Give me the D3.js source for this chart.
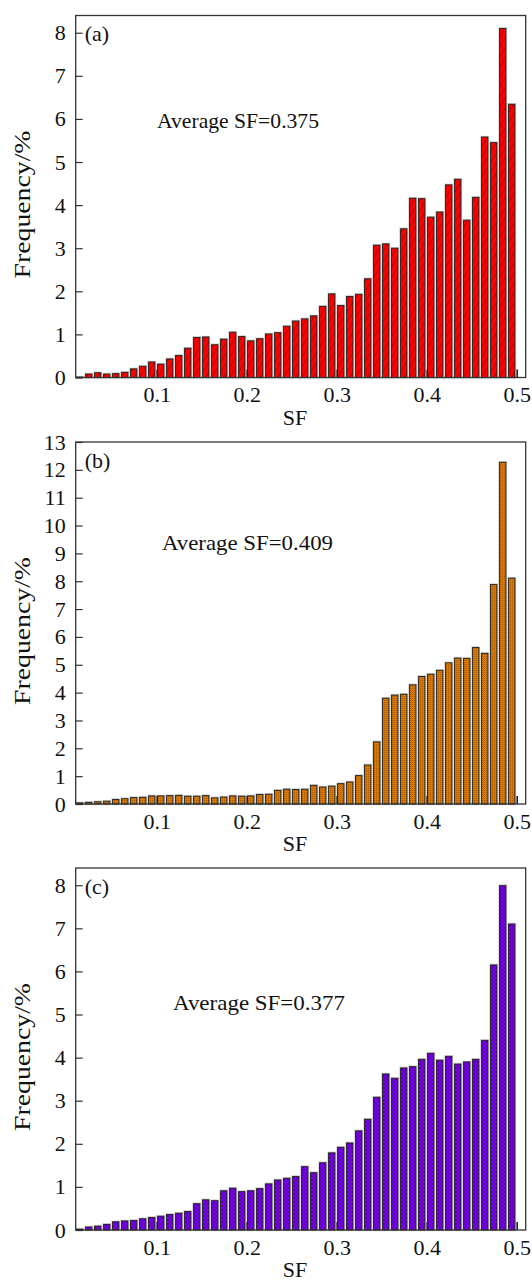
<!DOCTYPE html>
<html>
<head>
<meta charset="utf-8">
<script src="https://cdn.jsdelivr.net/npm/d3@7"></script>
<style>
  html, body { margin: 0; padding: 0; background: #fff; }
  svg text { font-family: "Liberation Serif", "Times New Roman", serif; fill: #111; }
</style>
</head>
<body>
<svg id="chart" width="532" height="1281"></svg>
<script>
// Lower edges of the 0.01-wide SF bins
const sfBins = [0.01, 0.02, 0.03, 0.04, 0.05, 0.06, 0.07, 0.08, 0.09, 0.10,
  0.11, 0.12, 0.13, 0.14, 0.15, 0.16, 0.17, 0.18, 0.19, 0.20,
  0.21, 0.22, 0.23, 0.24, 0.25, 0.26, 0.27, 0.28, 0.29, 0.30,
  0.31, 0.32, 0.33, 0.34, 0.35, 0.36, 0.37, 0.38, 0.39, 0.40,
  0.41, 0.42, 0.43, 0.44, 0.45, 0.46, 0.47, 0.48, 0.49];

// Frequency (%) per bin
const freqA = [0.01, 0.08, 0.11, 0.08, 0.09, 0.12, 0.20, 0.26, 0.36, 0.31,
  0.43, 0.51, 0.68, 0.93, 0.94, 0.76, 0.89, 1.05, 0.95, 0.85,
  0.90, 1.01, 1.04, 1.19, 1.31, 1.36, 1.43, 1.65, 1.94, 1.67,
  1.88, 1.93, 2.29, 3.07, 3.10, 3.00, 3.45, 4.16, 4.15, 3.72,
  3.84, 4.47, 4.60, 3.65, 4.18, 5.58, 5.45, 8.10, 6.34];

const freqB = [0.04, 0.06, 0.08, 0.10, 0.16, 0.19, 0.23, 0.24, 0.29, 0.29,
  0.30, 0.31, 0.28, 0.28, 0.30, 0.22, 0.25, 0.29, 0.28, 0.29,
  0.34, 0.35, 0.49, 0.53, 0.52, 0.53, 0.67, 0.61, 0.64, 0.73,
  0.79, 1.02, 1.40, 2.23, 3.80, 3.91, 3.94, 4.28, 4.58, 4.66,
  4.80, 5.07, 5.24, 5.23, 5.62, 5.41, 7.88, 12.27, 8.11];

const freqC = [0.02, 0.07, 0.09, 0.13, 0.19, 0.21, 0.22, 0.26, 0.29, 0.32,
  0.36, 0.39, 0.43, 0.61, 0.70, 0.68, 0.91, 0.97, 0.89, 0.91,
  0.96, 1.07, 1.16, 1.20, 1.24, 1.47, 1.33, 1.56, 1.79, 1.92,
  2.02, 2.30, 2.57, 3.08, 3.62, 3.52, 3.76, 3.79, 3.96, 4.10,
  3.94, 4.03, 3.85, 3.90, 3.96, 4.40, 6.15, 7.99, 7.10];

const xTicks = [0.1, 0.2, 0.3, 0.4, 0.5];
const yTicksA = [0, 1, 2, 3, 4, 5, 6, 7, 8];
const yTicksB = [0, 1, 2, 3, 4, 5, 6, 7, 8, 9, 10, 11, 12, 13];
const yTicksC = [0, 1, 2, 3, 4, 5, 6, 7, 8];

const panelTags = ["(a)", "(b)", "(c)"];
const averageLabels = ["Average SF=0.375", "Average SF=0.409", "Average SF=0.377"];
const xTitle = "SF";
const yTitle = "Frequency/%";

// Layout of the three stacked panels
const frameLeft = 75.7, frameRight = 525.7, frameH = 362;
const panels = [
  { top: 15.5, values: freqA, ticks: yTicksA, yMax: 8.4, fill: "url(#hatchA)", note: { x: 157, dy: 105, len: 162 } },
  { top: 442,  values: freqB, ticks: yTicksB, yMax: 13,  fill: "url(#dotsB)",  note: { x: 162, dy: 100, len: 171 } },
  { top: 868,  values: freqC, ticks: yTicksC, yMax: 8.4, fill: "url(#crossC)", note: { x: 173, dy: 134, len: 172 } }
];

const serif = "'Liberation Serif', 'Times New Roman', serif";
const svg = d3.select("#chart");
const defs = svg.append("defs");

// Red bars with thin diagonal hatching
const pa = defs.append("pattern").attr("id", "hatchA").attr("patternUnits", "userSpaceOnUse")
  .attr("width", 6).attr("height", 10);
pa.append("rect").attr("width", 6).attr("height", 10).attr("fill", "#ff0000");
pa.append("path").attr("d", "M0,10 L6,0 M-1,1 L1,-1 M5,11 L7,9")
  .attr("stroke", "#6a0000").attr("stroke-width", 0.7).attr("stroke-opacity", 0.75);

// Orange bars with a fine dotted texture
const pb = defs.append("pattern").attr("id", "dotsB").attr("patternUnits", "userSpaceOnUse")
  .attr("width", 2).attr("height", 2);
pb.append("rect").attr("width", 2).attr("height", 2).attr("fill", "#dc7800");
pb.append("rect").attr("width", 1).attr("height", 1).attr("fill", "#7a4000").attr("fill-opacity", 0.5);

// Violet bars with cross hatching
const pc = defs.append("pattern").attr("id", "crossC").attr("patternUnits", "userSpaceOnUse")
  .attr("width", 4).attr("height", 4);
pc.append("rect").attr("width", 4).attr("height", 4).attr("fill", "#8000ff");
pc.append("path").attr("d", "M0,0 L4,4 M4,0 L0,4")
  .attr("stroke", "#2a0050").attr("stroke-width", 0.6).attr("stroke-opacity", 0.8);

const x = d3.scaleLinear().domain([0.01, 0.51]).range([frameLeft, frameRight]);
const barW = x(0.018) - x(0.011);

panels.forEach((p, i) => {
  const bottom = p.top + frameH;
  const y = d3.scaleLinear().domain([0, p.yMax]).range([bottom, p.top]);
  const g = svg.append("g");

  const data = sfBins.map((b, k) => ({ bin: b, v: p.values[k] }));

  // soft halo under the bar outlines
  g.append("g").selectAll("rect").data(data).join("rect")
    .attr("x", d => x(d.bin + 0.001))
    .attr("width", barW)
    .attr("y", d => y(d.v))
    .attr("height", d => y(0) - y(d.v))
    .attr("fill", "none").attr("stroke", "#c8c8c8").attr("stroke-width", 2.4);

  g.append("g").selectAll("rect").data(data).join("rect")
    .attr("x", d => x(d.bin + 0.001))
    .attr("width", barW)
    .attr("y", d => y(d.v))
    .attr("height", d => y(0) - y(d.v))
    .attr("fill", p.fill).attr("stroke", "#1e1e1e").attr("stroke-width", 0.9);

  // x axis: inward ticks, labels below the frame
  const xAxis = d3.axisBottom(x).tickValues(xTicks).tickSize(-8).tickPadding(9)
    .tickFormat(d3.format(".1f"));
  const gx = g.append("g").attr("transform", `translate(0,${bottom})`).call(xAxis)
    .attr("font-family", serif);
  gx.select(".domain").remove();
  gx.selectAll(".tick line").attr("stroke", "#222").attr("stroke-width", 1.6);
  gx.selectAll(".tick text").attr("font-size", 22).attr("fill", "#111");

  // y axis: inward ticks, labels on the left
  const yAxis = d3.axisLeft(y).tickValues(p.ticks).tickSize(-7).tickPadding(10)
    .tickFormat(d3.format("d"));
  const gy = g.append("g").attr("transform", `translate(${frameLeft},0)`).call(yAxis)
    .attr("font-family", serif);
  gy.select(".domain").remove();
  gy.selectAll(".tick line").attr("stroke", "#333").attr("stroke-width", 1.2);
  gy.selectAll(".tick text").attr("font-size", 22).attr("fill", "#111");

  // frame
  g.append("rect")
    .attr("x", frameLeft).attr("y", p.top)
    .attr("width", frameRight - frameLeft).attr("height", frameH)
    .attr("fill", "none").attr("stroke", "#333").attr("stroke-width", 1.3);

  // panel tag
  g.append("text").attr("x", frameLeft + 9).attr("y", p.top + 18).attr("dy", "0.35em")
    .attr("font-size", 22).text(panelTags[i]);

  // average annotation
  g.append("text").attr("x", p.note.x).attr("y", p.top + p.note.dy).attr("dy", "0.35em")
    .attr("font-size", 22).attr("textLength", p.note.len).attr("lengthAdjust", "spacingAndGlyphs")
    .text(averageLabels[i]);

  // axis titles
  g.append("text").attr("x", 295).attr("y", bottom + 40).attr("dy", "0.32em")
    .attr("text-anchor", "middle").attr("font-size", 22).text(xTitle);

  g.append("text")
    .attr("transform", `translate(22,${p.top + frameH / 2 + 8}) rotate(-90)`)
    .attr("dy", "0.35em").attr("text-anchor", "middle")
    .attr("font-size", 24).attr("textLength", 148).attr("lengthAdjust", "spacingAndGlyphs")
    .text(yTitle);
});
</script>
</body>
</html>
